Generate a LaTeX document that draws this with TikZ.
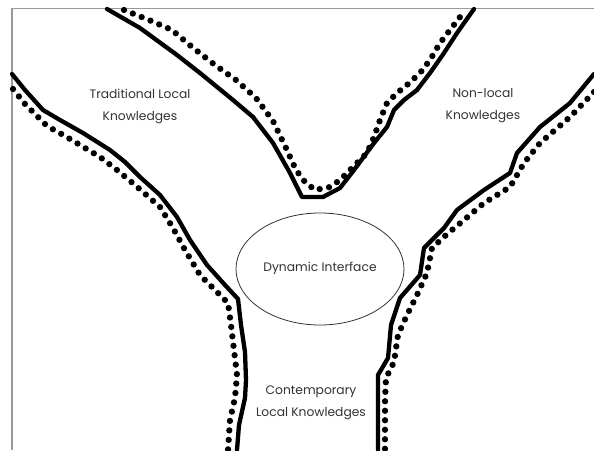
\documentclass[tikz,border=0pt]{standalone}
\usepackage{fontspec}
\setmainfont{Poppins}
\begin{document}
\begin{tikzpicture}[x=1pt,y=-1pt,
  solidline/.style={line width=4.3pt,line join=round,line cap=round,black},
  dotline/.style={line width=6.3pt,line cap=round,dash pattern=on 0pt off 9.5pt,black},
  framel/.style={line width=1.4pt,gray!80},
  lbl/.style={font=\fontsize{12.3}{22}\selectfont,text=black!80,align=center,inner sep=0pt}]
\useasboundingbox (0,0) rectangle (594,450);
\fill[white] (0,0) rectangle (594,450);
% frame
\coordinate (fa) at (594,8.5);
\coordinate (fb) at (12,8.5);
\coordinate (fc) at (12,450);
\draw[framel] (fa) -- (fb) -- (fc);
% V shape
\draw[solidline] (107,9) -- (140,28) -- (177,55) -- (200,73) -- (233,100) -- (253,117) -- (273,143) -- (290,173) -- (302,197) -- (323,197) -- (340,188) -- (354,170) -- (374,143) -- (387,127) -- (394,110) -- (404,100) -- (417,90) -- (430,73) -- (444,53) -- (457,33) -- (474,9);
\draw[dotline] (124,10) -- (149,20) -- (172,30) -- (192,47) -- (215,65) -- (236,80) -- (256,98) -- (273,121) -- (286,148) -- (296,170) -- (305,182) -- (315,190) -- (330,187) -- (340,180) -- (357,163) -- (367,153) -- (374,137) -- (380,120) -- (387,103) -- (397,93) -- (407,85) -- (420,73) -- (430,60) -- (440,43) -- (450,30) -- (460,17) -- (464,10);
% left line
\draw[solidline] (12,74) -- (25,90) -- (43,110) -- (60,120) -- (83,133) -- (110,150) -- (125,162) -- (140,177) -- (160,195) -- (177,217) -- (190,240) -- (207,265) -- (225,285) -- (238,299) -- (241,325) -- (245,352) -- (246,380) -- (245,398) -- (239,425) -- (237,450);
\draw[dotline] (13,89) -- (25,104) -- (47,126) -- (65,136) -- (80,145) -- (100,157) -- (117,170) -- (135,185) -- (160,207) -- (173,228) -- (185,250) -- (200,275) -- (215,290) -- (228,303) -- (231,325) -- (234,350) -- (237,375) -- (235,398) -- (230,420) -- (228,450);
% right line
\draw[solidline] (594,74) -- (570,103) -- (540,127) -- (517,153) -- (510,173) -- (484,190) -- (457,210) -- (444,228) -- (424,248) -- (420,275) -- (400,298) -- (391,325) -- (388,358) -- (378,375) -- (378,450);
\draw[dotline] (594,92) -- (570,117) -- (540,143) -- (524,163) -- (510,187) -- (484,203) -- (464,220) -- (446,235) -- (432,248) -- (427,273) -- (417,295) -- (407,315) -- (398,335) -- (394,362) -- (386,378) -- (385,400) -- (385,450);
% ellipse
\draw[line width=0.8pt,black!80] (320,269) ellipse [x radius=84, y radius=56];
% labels
\node[lbl] (trad) at (140,106) {Traditional Local\\Knowledges};
\node[lbl] (nonl) at (483,106) {Non-local\\Knowledges};
\node[lbl] (dyn) at (320,268) {Dynamic Interface};
\node[lbl] (cont) at (311,403) {Contemporary\\Local Knowledges};
\end{tikzpicture}
\end{document}
